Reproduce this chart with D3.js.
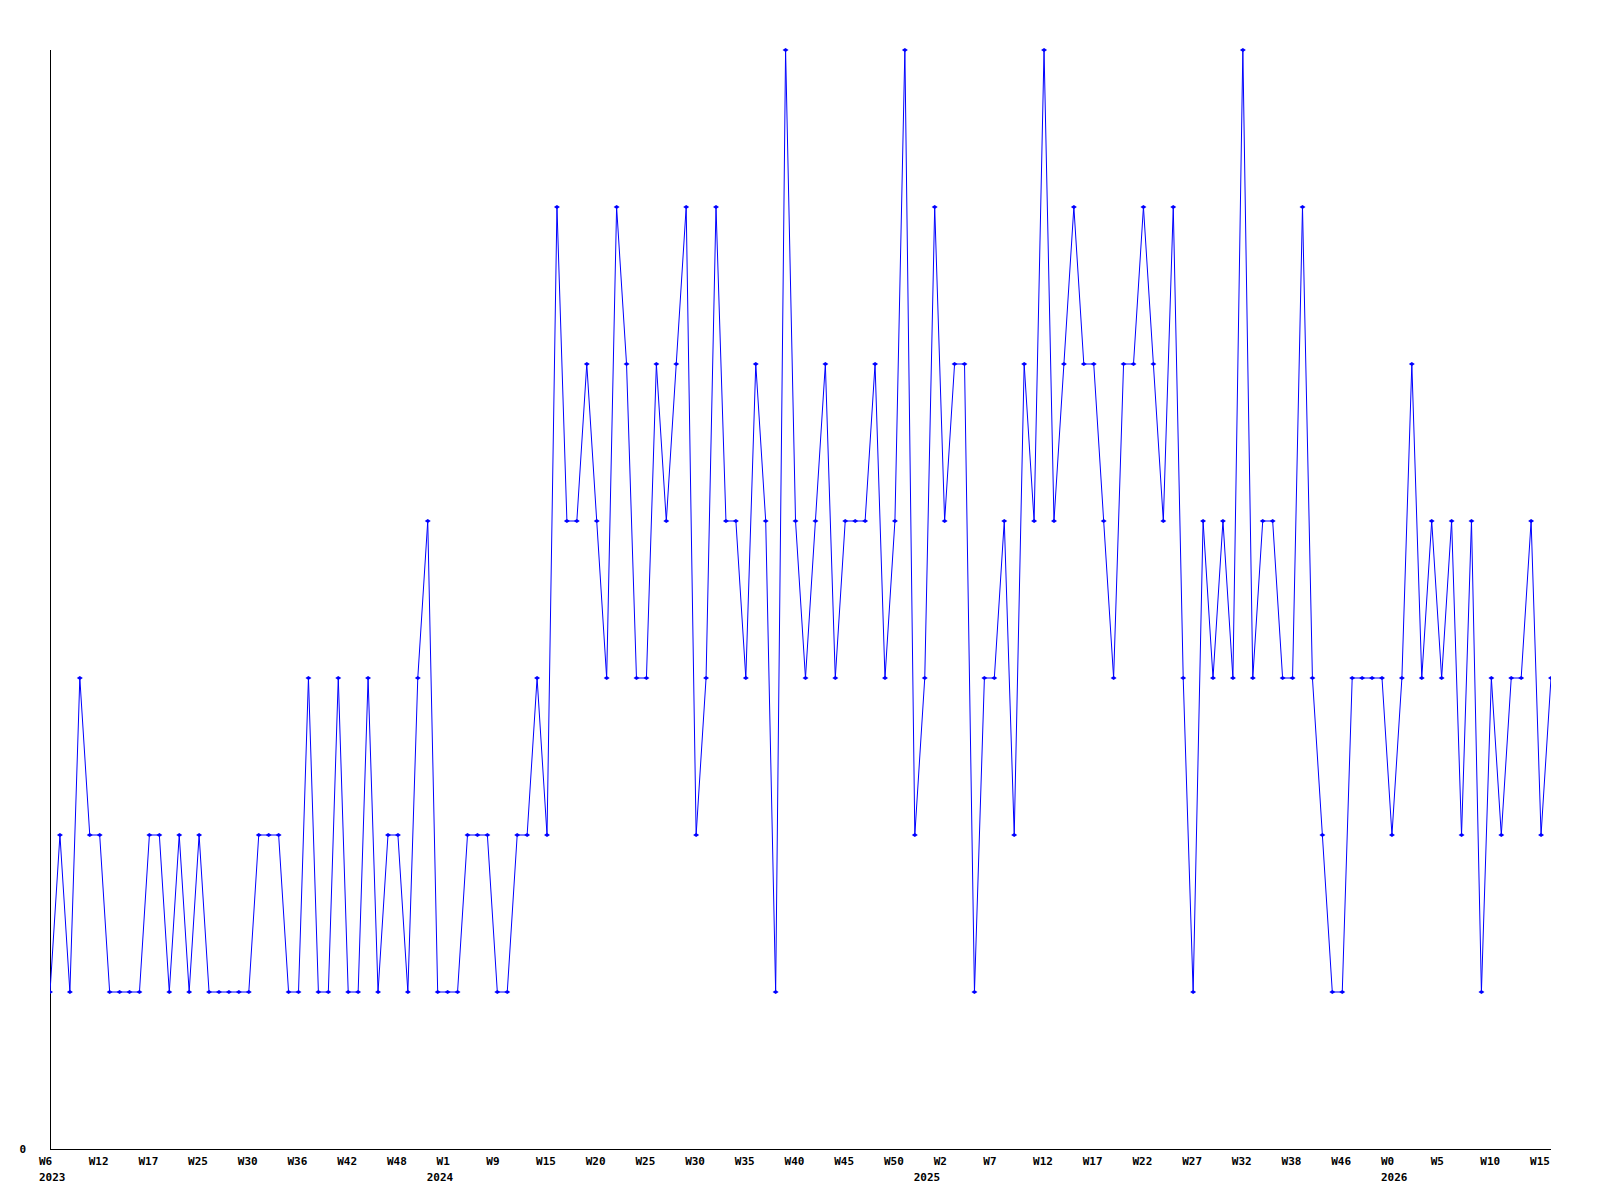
<!DOCTYPE html>
<html>
<head>
<meta charset="utf-8">
<script src="https://cdn.jsdelivr.net/npm/d3@7"></script>
<style>
  body { margin: 0; background: #fff; }
  text { font-family: "DejaVu Sans Mono", monospace; font-size: 11px; font-weight: bold; fill: #000; }
</style>
</head>
<body>
<div id="chart"></div>
<script>
// weekly counts, one per point
var values = [
  1, 2, 1, 3, 2, 2, 1, 1, 1, 1,
  2, 2, 1, 2, 1, 2, 1, 1, 1, 1,
  1, 2, 2, 2, 1, 1, 3, 1, 1, 3,
  1, 1, 3, 1, 2, 2, 1, 3, 4, 1,
  1, 1, 2, 2, 2, 1, 1, 2, 2, 3,
  2, 6, 4, 4, 5, 4, 3, 6, 5, 3,
  3, 5, 4, 5, 6, 2, 3, 6, 4, 4,
  3, 5, 4, 1, 7, 4, 3, 4, 5, 3,
  4, 4, 4, 5, 3, 4, 7, 2, 3, 6,
  4, 5, 5, 1, 3, 3, 4, 2, 5, 4,
  7, 4, 5, 6, 5, 5, 4, 3, 5, 5,
  6, 5, 4, 6, 3, 1, 4, 3, 4, 3,
  7, 3, 4, 4, 3, 3, 6, 3, 2, 1,
  1, 3, 3, 3, 3, 2, 3, 5, 3, 4,
  3, 4, 2, 4, 1, 3, 2, 3, 3, 4,
  2, 3
];
// week label every 5th point
var weekLabels = ["W6", "W12", "W17", "W25", "W30", "W36", "W42", "W48", "W1", "W9",
                  "W15", "W20", "W25", "W30", "W35", "W40", "W45", "W50", "W2", "W7",
                  "W12", "W17", "W22", "W27", "W32", "W38", "W46", "W0", "W5", "W10", "W15"];
var labelStep = 5;
// first point of each year
var yearStart = [0, 39, 88, 135];
var years = ["2023", "2024", "2025", "2026"];
var yTicks = [0];

var W = 1600, H = 1200;
var margin = {left: 50, right: 49, top: 50, bottom: 51};

var svg = d3.select("#chart").append("svg")
  .attr("width", W).attr("height", H);

var x = d3.scaleLinear()
  .domain([0, values.length - 1])
  .range([margin.left, W - margin.right]);
var y = d3.scaleLinear()
  .domain([0, d3.max(values)])
  .range([H - margin.bottom, margin.top]);

svg.append("defs").append("clipPath").attr("id", "plot")
  .append("rect")
  .attr("x", margin.left).attr("y", margin.top - 5)
  .attr("width", W - margin.left - margin.right)
  .attr("height", H - margin.top - margin.bottom + 10);

// axes lines
svg.append("line")
  .attr("x1", margin.left + 0.5).attr("x2", margin.left + 0.5)
  .attr("y1", margin.top).attr("y2", y(0) + 0.5)
  .attr("stroke", "#000");
svg.append("line")
  .attr("x1", margin.left).attr("x2", W - margin.right)
  .attr("y1", y(0) + 0.5).attr("y2", y(0) + 0.5)
  .attr("stroke", "#000");

// y tick labels
svg.selectAll("text.ytick")
  .data(yTicks)
  .enter().append("text")
  .attr("class", "ytick")
  .attr("x", 26)
  .attr("y", function(d) { return y(d) + 4; })
  .attr("text-anchor", "end")
  .text(function(d) { return d; });

// x tick labels (left aligned a bit before the point)
svg.selectAll("text.week")
  .data(weekLabels)
  .enter().append("text")
  .attr("class", "week")
  .attr("x", function(d, i) { return x(i * labelStep) - 11; })
  .attr("y", y(0) + 16)
  .text(function(d) { return d; });

svg.selectAll("text.year")
  .data(years)
  .enter().append("text")
  .attr("class", "year")
  .attr("x", function(d, i) { return x(yearStart[i]) - 11; })
  .attr("y", y(0) + 32)
  .text(function(d) { return d; });

var g = svg.append("g").attr("clip-path", "url(#plot)");

var line = d3.line()
  .x(function(d, i) { return x(i); })
  .y(function(d) { return y(d); });

g.append("path")
  .datum(values)
  .attr("d", line)
  .attr("fill", "none")
  .attr("stroke", "#0000ff")
  .attr("stroke-width", 1);

// small diamond markers
g.selectAll("path.pt")
  .data(values)
  .enter().append("path")
  .attr("class", "pt")
  .attr("d", function(d, i) {
    var cx = x(i), cy = y(d);
    return "M" + (cx - 3) + "," + cy + "L" + cx + "," + (cy - 2) +
           "L" + (cx + 3) + "," + cy + "L" + cx + "," + (cy + 2) + "Z";
  })
  .attr("fill", "#0000ff");
</script>
</body>
</html>
